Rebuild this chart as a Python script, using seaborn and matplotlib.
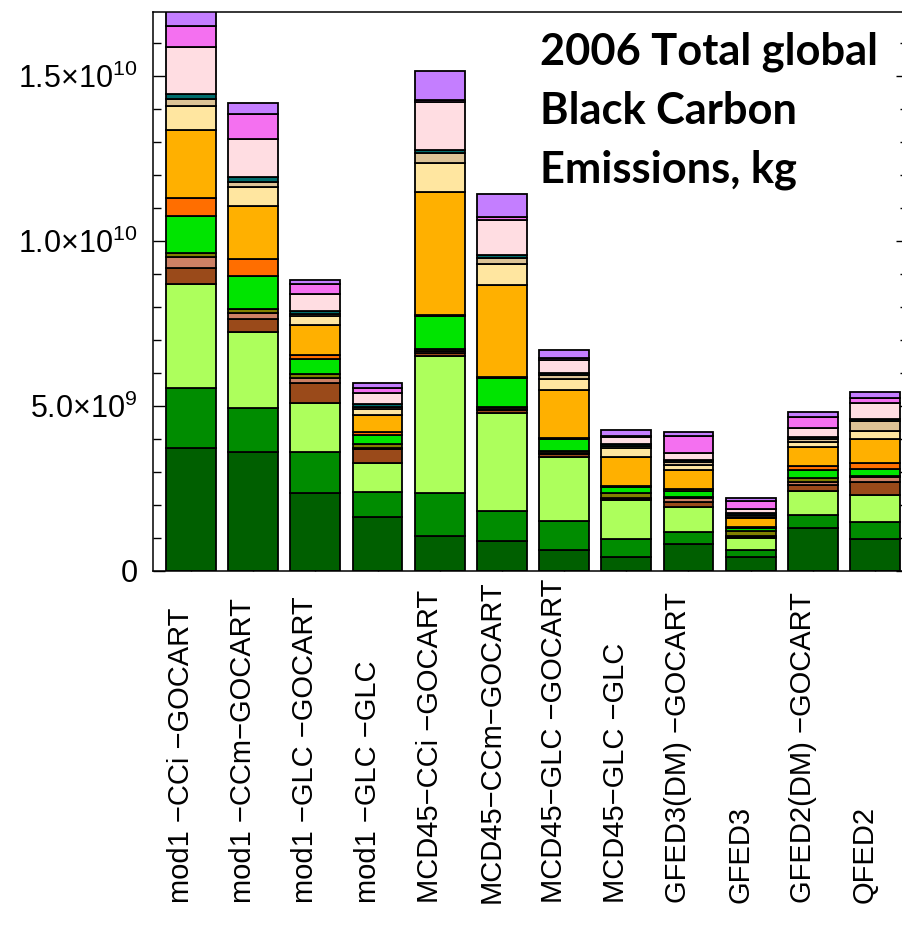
import numpy as np
import pandas as pd
import matplotlib
matplotlib.use('Agg')
import matplotlib.pyplot as plt
import matplotlib.transforms as mtransforms
from matplotlib.ticker import MultipleLocator
import seaborn as sns

# model runs (x axis)
runs = ['mod1 \u2212CCi \u2212GOCART', 'mod1 \u2212CCm\u2212GOCART', 'mod1 \u2212GLC \u2212GOCART',
        'mod1 \u2212GLC \u2212GLC', 'MCD45\u2212CCi \u2212GOCART', 'MCD45\u2212CCm\u2212GOCART',
        'MCD45\u2212GLC \u2212GOCART', 'MCD45\u2212GLC \u2212GLC', 'GFED3(DM) \u2212GOCART',
        'GFED3', 'GFED2(DM) \u2212GOCART', 'QFED2']

# stacked components, bottom to top, in 1e9 kg
dark_green = [3.74, 3.62, 2.35, 1.65, 1.07, 0.92, 0.64, 0.43, 0.82, 0.43, 1.31, 0.97]
green = [1.82, 1.31, 1.26, 0.74, 1.28, 0.91, 0.89, 0.54, 0.35, 0.20, 0.38, 0.51]
light_green = [3.13, 2.32, 1.47, 0.88, 4.17, 2.95, 1.91, 1.18, 0.78, 0.37, 0.74, 0.81]
brown = [0.50, 0.38, 0.62, 0.43, 0.10, 0.09, 0.10, 0.03, 0.15, 0.03, 0.17, 0.42]
salmon = [0.32, 0.20, 0.15, 0.04, 0.05, 0.04, 0.03, 0.02, 0.10, 0.02, 0.10, 0.13]
olive = [0.12, 0.12, 0.11, 0.11, 0.07, 0.07, 0.08, 0.15, 0.05, 0.15, 0.12, 0.05]
bright_green = [1.13, 0.98, 0.45, 0.27, 0.98, 0.86, 0.35, 0.20, 0.17, 0.10, 0.25, 0.20]
dark_orange = [0.54, 0.54, 0.15, 0.10, 0.05, 0.04, 0.04, 0.03, 0.06, 0.03, 0.10, 0.19]
orange = [2.07, 1.59, 0.88, 0.50, 3.71, 2.78, 1.44, 0.88, 0.58, 0.27, 0.58, 0.71]
light_yellow = [0.73, 0.58, 0.30, 0.20, 0.89, 0.63, 0.35, 0.28, 0.15, 0.05, 0.15, 0.26]
tan = [0.20, 0.15, 0.05, 0.05, 0.30, 0.20, 0.10, 0.05, 0.08, 0.05, 0.09, 0.30]
teal = [0.15, 0.15, 0.10, 0.10, 0.10, 0.08, 0.07, 0.07, 0.07, 0.05, 0.06, 0.05]
light_pink = [1.44, 1.16, 0.50, 0.33, 1.43, 1.06, 0.40, 0.20, 0.23, 0.13, 0.27, 0.48]
magenta = [0.64, 0.76, 0.30, 0.15, 0.08, 0.10, 0.05, 0.03, 0.50, 0.23, 0.36, 0.17]
lavender = [0.60, 0.33, 0.12, 0.14, 0.88, 0.68, 0.25, 0.17, 0.12, 0.09, 0.14, 0.16]

layers = ['dark_green', 'green', 'light_green', 'brown', 'salmon', 'olive', 'bright_green',
          'dark_orange', 'orange', 'light_yellow', 'tan', 'teal', 'light_pink', 'magenta', 'lavender']
layer_values = [dark_green, green, light_green, brown, salmon, olive, bright_green,
                dark_orange, orange, light_yellow, tan, teal, light_pink, magenta, lavender]
layer_colors = ['#005f00', '#008c00', '#adff5c', '#9a4a1a', '#cd8064', '#808000', '#00e400',
                '#ff6e00', '#ffb000', '#ffe6a0', '#dcc396', '#006c6c', '#ffdde2', '#f470f0', '#c47eff']

y_ticks = [0, 5e9, 1e10, 1.5e10]
y_tick_labels = [r'$\mathregular{0}$', r'$\mathregular{5.0{\times}10^{9}}$',
                 r'$\mathregular{1.0{\times}10^{10}}$', r'$\mathregular{1.5{\times}10^{10}}$']

rows = []
for name, vals in zip(layers, layer_values):
  for i, v in enumerate(vals):
    rows.append({'pos': i, 'kg': v * 1e9, 'layer': name})
df = pd.DataFrame(rows)

sns.set_theme(style='ticks', rc={'text.color': 'black', 'xtick.color': 'black',
                                 'ytick.color': 'black', 'axes.edgecolor': 'black'})
plt.rcParams['font.family'] = ['Liberation Sans', 'DejaVu Sans']
plt.rcParams['mathtext.fontset'] = 'custom'
plt.rcParams['mathtext.rm'] = 'Liberation Sans'

fig = plt.figure(figsize=(9.02, 9.25), dpi=100)
fig.patch.set_facecolor('white')
ax = fig.add_axes([153 / 902, (925 - 571) / 925, (908 - 153) / 902, (571 - 12) / 925])

sns.histplot(data=df, x='pos', weights='kg', hue='layer', hue_order=layers[::-1],
             multiple='stack', discrete=True, shrink=0.8,
             palette=dict(zip(layers, layer_colors)), edgecolor='black',
             linewidth=1.3, alpha=1, legend=False, ax=ax)

ax.set_xlim(-0.61, 11.53)
ax.set_ylim(0, 16.94e9)
ax.set_xlabel('')
ax.set_ylabel('')
ax.set_facecolor('white')
for s in ax.spines.values():
  s.set_visible(True)
  s.set_color('black')
  s.set_linewidth(1.1)

ax.set_yticks(y_ticks, labels=y_tick_labels)
ax.yaxis.set_minor_locator(MultipleLocator(1e9))
ax.tick_params(axis='y', which='both', direction='in', left=True, right=True,
               color='black', labelcolor='black', width=1.0, labelsize=22, pad=11)
ax.tick_params(axis='y', which='major', length=8.6)
ax.tick_params(axis='y', which='minor', length=5.8)

ax.set_xticks(range(len(runs)), labels=runs)
ax.tick_params(axis='x', which='major', direction='in', bottom=True, top=False,
               length=8.6, width=1.0, color='black', labelcolor='black', labelsize=21,
               labelrotation=90, pad=239)
ax.tick_params(axis='x', which='minor', bottom=False, top=False)
shift = mtransforms.ScaledTranslation(-10 / 100, 0, fig.dpi_scale_trans)
for lbl in ax.get_xticklabels():
  lbl.set_va('bottom')
  lbl.set_transform(lbl.get_transform() + shift)

fig.text(540 / 902, 1 - 32 / 925, '2006 Total global\nBlack Carbon\nEmissions, kg',
         ha='left', va='top', fontsize=31.2, fontweight='bold', color='black',
         family=['Lato', 'DejaVu Sans'], linespacing=1.56)

fig.savefig('out.png', dpi=100)
